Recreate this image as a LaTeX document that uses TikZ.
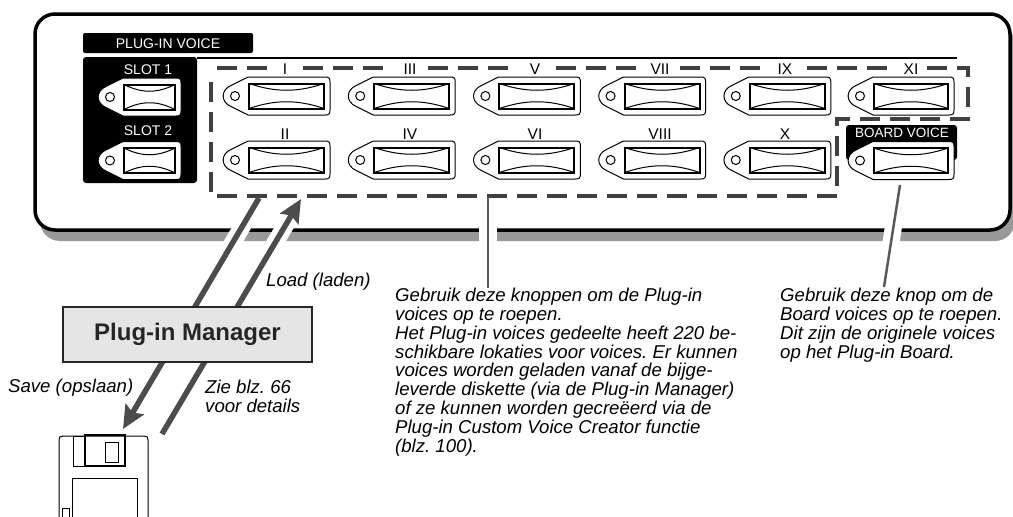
\documentclass[tikz,border=0pt]{standalone}
\usepackage{fontspec}
\setmainfont{Liberation Sans}
\usetikzlibrary{arrows.meta}
\frenchspacing

\begin{document}
\begin{tikzpicture}[
    x=1pt, y=-1pt,
    panel/.style={rounded corners=20pt, line width=3.5pt},
    dash box/.style={draw=black!75, line width=3.5pt, dash pattern=on 20pt off 10pt},
    numeral/.style={font=\fontsize{15.5}{15.5}\selectfont, inner sep=0pt},
    tag/.style={font=\fontsize{14}{14}\selectfont, text=white, inner sep=0pt},
    remark/.style={font=\fontsize{18.6}{18.8}\selectfont\itshape, align=left, inner sep=0pt},
    leader/.style={draw=black!65, line width=2.5pt},
    flow/.style={draw=black!70, line width=5.5pt},
    halo/.style={draw=white, line width=17pt},
    head/.style={-{Stealth[length=23pt, width=21pt, inset=4pt]}},
    thin part/.style={draw=black, line width=1pt},
    pics/socket/.style={code={
        \draw[thin part, fill=white] (24,-19) -- (#1+26,-19)
            .. controls (#1+30,-19) and (#1+31,-18) .. (#1+31,-14) -- (#1+31,14)
            .. controls (#1+31,18) and (#1+30,19) .. (#1+26,19) -- (24,19) -- (7,10.5)
            .. controls (-3.5,6) and (-3.5,-6) .. (7,-10.5) -- cycle;
        \draw[thin part] (11,0) circle[radius=4.5pt];
        \draw[draw=black, line width=2pt] (25,-12.5) rectangle (#1+25,12.5);
        \draw[thin part] (25,-12.5) .. controls (#1*0.35+25,-3.5) and (#1*0.65+25,-3.5) .. (#1+25,-12.5);
        \draw[thin part] (25,12.5) .. controls (#1*0.35+25,3.5) and (#1*0.65+25,3.5) .. (#1+25,12.5);
    }}
]
\useasboundingbox (0,0) rectangle (1013,517);

% Named ends of the connectors
\coordinate (save-start) at (259,198);
\coordinate (save-end) at (123,429);
\coordinate (load-start) at (162,434);
\coordinate (load-end) at (301,199);
\coordinate (slots-foot) at (488,197);
\coordinate (board-foot) at (900,185);
\coordinate (board-end) at (884,287);

% Front panel
\fill[black!40, panel] (40,24) rectangle (1015,241);
\draw[panel, fill=white] (35,14) rectangle (1010,230);

% Plug-in voice block
\node[fill=black, rounded corners=2pt, minimum width=170pt, minimum height=20pt, inner sep=0pt] (voice-tab) at (168,43) {};
\node[tag] (voice-text) at (168,43.5) {PLUG-IN VOICE};
\fill[black, rounded corners=3pt] (83,183) -- (83,57) -- (197,57) -- (197,183) -- cycle;
\draw[black, line width=1.5pt] (197,58) -- (957,58);
\node[tag] (slot-one) at (148,70) {SLOT 1};
\node[tag] (slot-two) at (148,131) {SLOT 2};
\pic at (99,97) {socket=51};
\pic at (99,160.5) {socket=51};

% Selection outline, broken at the numerals
\draw[dash box] (927,68) -- (968,68) -- (968,119) -- (837,119) -- (837,196) -- (211,196) -- (211,74);
\foreach \from/\to in {217/267, 303/383, 428/508, 556/636, 680/760, 807/887} {
    \draw[dash box] (\from,68) -- (\to,68);
}

% Voice sockets
\foreach \col/\upper/\lower in {0/I/II, 1/III/IV, 2/V/VI, 3/VII/VIII, 4/IX/X} {
    \pic at (224+\col*125.2,96) {socket=75};
    \pic at (224+\col*125.2,160) {socket=75};
    \node[numeral] (upper-\col) at (285+\col*125,69) {\upper};
    \node[numeral] (lower-\col) at (285+\col*125,134) {\lower};
}
\pic at (849,96) {socket=74};
\node[numeral] (upper-5) at (911,69) {XI};

% Board voice block
\fill[black, rounded corners=3pt] (846,160) -- (846,125) -- (957,125) -- (957,160) -- cycle;
\node[tag, font=\fontsize{13.5}{14}\selectfont] (board-tag) at (902,133) {BOARD VOICE};
\pic at (849,160.5) {socket=74};

% Texts
\node[remark, anchor=north west] (slots-text) at (395,288) {Gebruik deze knoppen om de Plug-in\\voices op te roepen.\\Het Plug-in voices gedeelte heeft 220 be-\\schikbare lokaties voor voices. Er kunnen\\voices worden geladen vanaf de bijge-\\leverde diskette (via de Plug-in Manager)\\of ze kunnen worden gecreëerd via de\\Plug-in Custom Voice Creator functie\\(blz. 100).};
\node[remark, anchor=north west] (board-text) at (780,288) {Gebruik deze knop om de\\Board voices op te roepen.\\Dit zijn de originele voices\\op het Plug-in Board.};
\node[remark, anchor=west] (save-text) at (8,388) {Save (opslaan)};
\node[remark, anchor=west] (load-text) at (266,282) {Load (laden)};
\node[remark, anchor=north west] (zie-text) at (205,380) {Zie blz. 66\\voor details};

% Gaps in the panel edge
\begin{scope}
    \clip (0,222) rectangle (1013,245);
    \draw[halo] (save-start) -- (save-end);
    \draw[halo] (load-start) -- (load-end);
    \draw[halo, line width=18pt] (slots-foot) -- (slots-text.north -| slots-foot);
    \draw[halo] (board-foot) -- (board-end);
\end{scope}

% Connectors
\draw[leader] (slots-foot) -- (slots-text.north -| slots-foot);
\draw[leader] (board-foot) -- (board-end);
\draw[flow, head] (save-start) -- (save-end);
\draw[flow, head] (load-start) -- (load-end);

% Manager
\node[draw=black!85, line width=1.5pt, fill=black!10, minimum width=249pt, minimum height=55pt, inner sep=0pt,
    font=\fontsize{24}{24}\selectfont\bfseries, text=black!85] (manager) at (187.5,334.5) {Plug-in Manager};

% Diskette
\draw[thin part] (59,517) -- (59,440) .. controls (59,437) and (60,436) .. (63,436) -- (144,436)
    .. controls (147,436) and (148,437) .. (148,440) -- (148,517);
\draw[thin part] (73,436) rectangle (85,466);
\draw[thin part, line width=1.3pt] (85,435) rectangle (125,466);
\draw[thin part] (105,442) rectangle (118,462);
\draw[thin part] (137,517) -- (137,478) -- (72,478) -- (72,517);
\draw[thin part] (69,517) -- (69,508) -- (62,508) -- (62,517);

\end{tikzpicture}
\end{document}
